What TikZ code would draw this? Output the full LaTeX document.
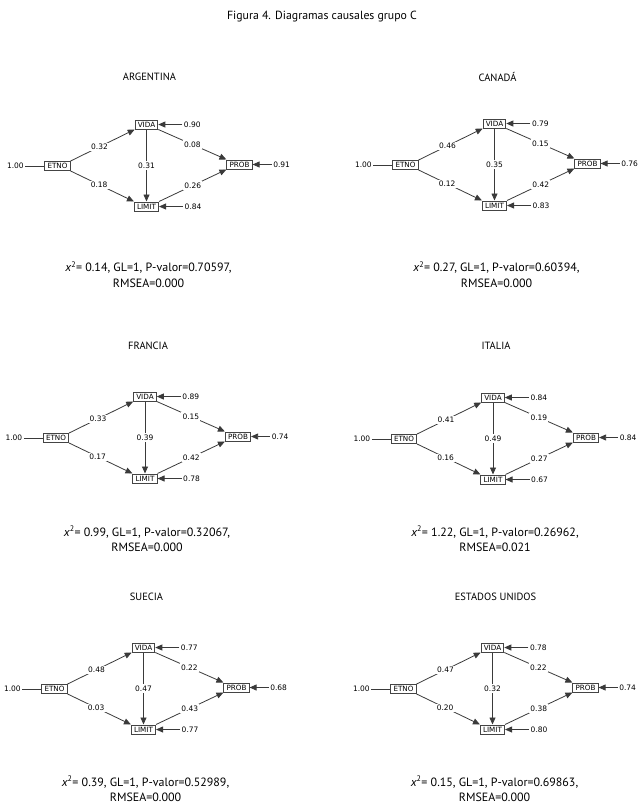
\documentclass[tikz,border=0pt]{standalone}
\usepackage{fontspec}
\setmainfont{PT Sans}
\newfontfamily\diagfont{DejaVu Sans}
\usetikzlibrary{positioning,arrows.meta}
\definecolor{BoxLine}{HTML}{444444}
\definecolor{PathLine}{HTML}{3A3A3A}
\tikzset{
  varbox/.style={draw=BoxLine,line width=1pt,inner xsep=2.6pt,inner ysep=0pt,minimum height=9pt,font=\diagfont\fontsize{7.2}{8}\selectfont},
  coef/.style={fill=white,inner sep=1.2pt,font=\diagfont\fontsize{7.5}{8}\selectfont},
  errlab/.style={inner sep=1.5pt,font=\diagfont\fontsize{7.5}{8}\selectfont},
  causal/.style={draw=PathLine,line width=0.8pt,-{Triangle[length=7pt,width=6pt]}},
  pais/.style={font=\fontsize{10.5}{12}\selectfont},
  ajuste/.style={align=center,font=\fontsize{12}{15.5}\selectfont}
}

\begin{document}
\begin{tikzpicture}[x=1pt,y=-1pt]
  \useasboundingbox (0,0) rectangle (644,812);
  \node[pais,font=\fontsize{11.8}{14}\selectfont] (titulo) at (322,17) {Figura 4. Diagramas causales grupo C};
  \foreach \ex/\ey/\hy/\cy/\nombre/\ab/\ac/\bc/\bd/\cd/\rb/\rc/\rd/\chisq/\pval/\rmsea in {
    57.5/166/77/274.5/ARGENTINA/0.32/0.18/0.31/0.08/0.26/0.90/0.84/0.91/0.14/0.70597/0.000,
    405.5/165/77/274.5/CANADÁ/0.46/0.12/0.35/0.15/0.42/0.79/0.83/0.76/0.27/0.60394/0.000,
    56/438/346/539/FRANCIA/0.33/0.17/0.39/0.15/0.42/0.89/0.78/0.74/0.99/0.32067/0.000,
    404/439/346/539/ITALIA/0.41/0.16/0.49/0.19/0.27/0.84/0.67/0.84/1.22/0.26962/0.021,
    54.5/689/597/789/SUECIA/0.48/0.03/0.47/0.22/0.43/0.77/0.77/0.68/0.39/0.52989/0.000,
    403.5/689/597/789/ESTADOS UNIDOS/0.47/0.20/0.32/0.22/0.38/0.78/0.80/0.74/0.15/0.69863/0.000}{
    \node[varbox] (etno) at (\ex,\ey) {ETNO};
    \node[varbox] (vida) at ([shift={(89,-41.5)}]etno.center) {VIDA};
    \node[varbox] (limit) at ([shift={(89,40.5)}]etno.center) {LIMIT};
    \node[varbox] (prob) at ([shift={(182,-1.5)}]etno.center) {PROB};
    \node[errlab,left=19pt of etno] (uno) {1.00};
    \node[errlab,right=24pt of vida] (evida) {\rb};
    \node[errlab,right=24pt of limit] (elimit) {\rc};
    \node[errlab,right=19pt of prob] (eprob) {\rd};
    \draw[draw=PathLine,line width=0.8pt] (uno) -- (etno);
    \draw[causal] (evida) -- (vida);
    \draw[causal] (elimit) -- (limit);
    \draw[causal] (eprob) -- (prob);
    \draw[causal] (etno.north east) -- node[coef,pos=0.45] {\ab} (vida.south west);
    \draw[causal] (etno.south east) -- node[coef,pos=0.45] {\ac} (limit.north west);
    \draw[causal] (vida) -- node[coef] {\bc} (limit);
    \draw[causal] (vida.south east) -- node[coef] {\bd} (prob.north west);
    \draw[causal] (limit.north east) -- node[coef] {\cd} (prob.south west);
    \node[pais] (pais) at (\ex+92,\hy) {\nombre};
    \node[ajuste] (ajuste) at (\ex+91,\cy) {{\itshape x}\textsuperscript{2}= \chisq, GL=1, P-valor=\pval,\\RMSEA=\rmsea};
  }
\end{tikzpicture}
\end{document}
